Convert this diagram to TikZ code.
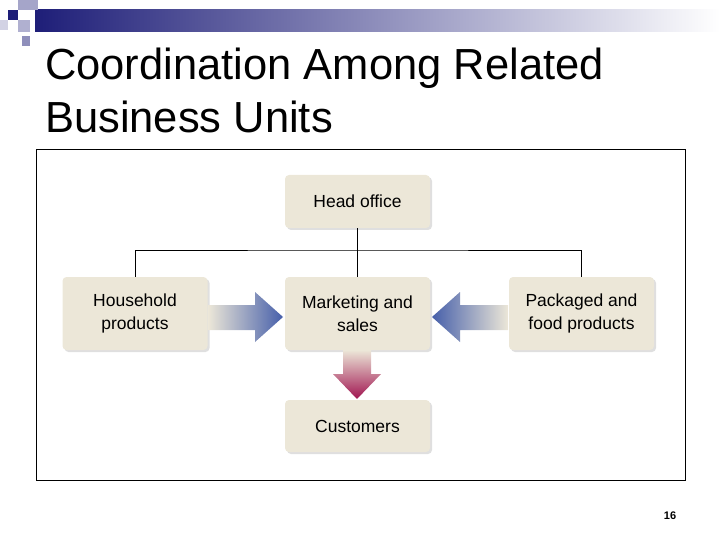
\documentclass[tikz,border=0pt]{standalone}
\usepackage{fontspec}
\setmainfont{Liberation Sans}
\usetikzlibrary{shadows}
\definecolor{boxc}{RGB}{236,231,216}
\definecolor{navy}{RGB}{30,30,120}
\definecolor{arrb}{RGB}{70,95,170}
\definecolor{arrm}{RGB}{160,20,80}
\begin{document}
\begin{tikzpicture}[x=1pt,y=-1pt,
  box/.style={draw=none,fill=boxc,rounded corners=4pt,minimum width=145pt,minimum height=#1,align=center,font=\fontsize{17.5}{23}\selectfont,drop shadow={shadow xshift=2pt,shadow yshift=-2pt,fill=black!25}},
  box/.default=73pt,
  conn/.style={line width=1pt}]
\useasboundingbox (0,0) rectangle (720,540);
% header decoration
\shade[left color=navy,right color=white] (35,10) rectangle (720,32);
\fill[navy] (8,10) rectangle (18,20);
\fill[navy!40] (18,0) rectangle (38,10);
\fill[navy!35] (18,20) rectangle (30,32);
\fill[navy!20] (0,20) rectangle (8,30);
\fill[navy!50] (22,36) rectangle (30,46);
\node[anchor=base west,inner sep=0pt,font=\fontsize{43.5}{48}\selectfont] (t1) at (45,80) {Coordination Among Related};
\node[anchor=base west,inner sep=0pt,font=\fontsize{43.5}{48}\selectfont] (t2) at (45,133) {Business Units};
\draw[line width=1pt] (36,150) rectangle (685,480);
% nodes
\node[box=53pt] (head) at (357.5,201.5) {Head office};
\node[box] (hh) at (135,313.5) {Household\\products};
\node[box] (mk) at (357.5,313.5) {Marketing and\\sales};
\node[box] (pk) at (581.5,313.5) {Packaged and\\food products};
\node[box=52pt] (cu) at (357.5,426) {Customers};
% connectors
\coordinate (j) at (357.5,250);
\draw[conn] (head.south) -- (mk.north);
\draw[conn] (hh.north) |- (j) -| (pk.north);
% arrows
\shade[left color=boxc,right color=arrb] (208,305) -- (255,305) -- (255,292) -- (283,317) -- (255,342) -- (255,330) -- (208,330) -- cycle;
\shade[right color=boxc,left color=arrb] (508,305) -- (460,305) -- (460,292) -- (432,317) -- (460,342) -- (460,330) -- (508,330) -- cycle;
\shade[top color=boxc,bottom color=arrm] (343,350) -- (343,374) -- (333,374) -- (357,399) -- (381,374) -- (371,374) -- (371,350) -- cycle;
\node[font=\bfseries\fontsize{11}{12}\selectfont] (pn) at (670,516) {16};
\end{tikzpicture}
\end{document}
